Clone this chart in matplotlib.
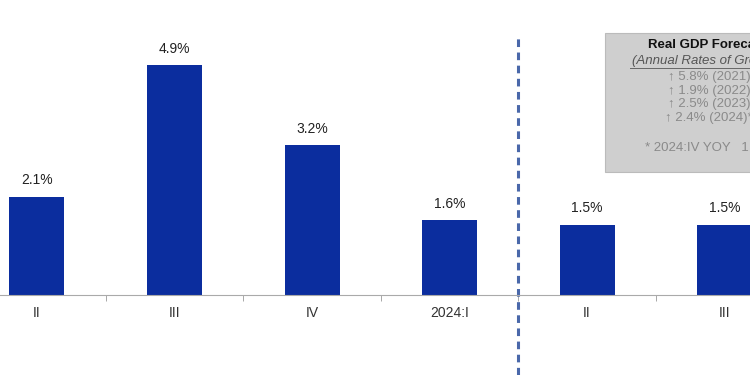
import matplotlib.pyplot as plt
from matplotlib.patches import Rectangle
from matplotlib.transforms import blended_transform_factory

plt.rcParams['font.family'] = ['Liberation Sans', 'DejaVu Sans']

quarters = ['II', 'III', 'IV', '2024:I', 'II', 'III']
growth = [2.1, 4.9, 3.2, 1.6, 1.5, 1.5]
forecast_lines = ['\u2191 5.8% (2021)', '\u2191 1.9% (2022)', '\u2191 2.5% (2023)', '\u2191 2.4% (2024)*']

fig = plt.figure(figsize=(7.5, 3.75), dpi=100)
ax = fig.add_axes([0, 80 / 375, 1, 295 / 375])

x = list(range(len(growth)))
ax.bar(x, growth, width=0.4, color='#0b2d9e', zorder=2)
for xi, v in zip(x, growth):
    ax.text(xi, v + 0.2, f'{v}%', ha='center', va='bottom', fontsize=10, color='#222222')

ax.set_xticks(x)
ax.set_xticklabels(quarters, fontsize=10, color='#333333')
ax.set_xticks([i + 0.5 for i in range(-1, len(growth))], minor=True)
ax.tick_params(axis='x', which='major', length=0, pad=8)
ax.tick_params(axis='x', which='minor', length=4, color='#999999', direction='out')
ax.set_yticks([])
ax.set_xlim(-0.269, 5.185)
ax.set_ylim(0, 6.29)
for s in ['top', 'left', 'right']:
    ax.spines[s].set_visible(False)
ax.spines['bottom'].set_color('#aaaaaa')

# forecast divider
tr = blended_transform_factory(ax.transData, fig.transFigure)
ax.plot([3.5, 3.5], [0, 1 - 35 / 375], transform=tr, clip_on=False,
        color='#4a68aa', lw=2.2, ls=(0, (2.5, 1.8)))

# forecast box
fig.patches.append(Rectangle((605 / 750, 1 - 172 / 375), 200 / 750, 139 / 375,
                             transform=fig.transFigure, facecolor='#cfcfcf',
                             edgecolor='#bbbbbb', lw=0.8))
cx = 707 / 750
fig.text(cx, 1 - 45 / 375, 'Real GDP Forecast', ha='center', va='center',
         fontsize=9.5, fontweight='bold', color='#111111')
fig.text(cx, 1 - 61 / 375, '(Annual Rates of Growth)', ha='center', va='center',
         fontsize=9.5, style='italic', color='#555555')
fig.add_artist(plt.Line2D([630 / 750, 790 / 750], [1 - 68 / 375] * 2, color='#666666', lw=0.7))
for i, line in enumerate(forecast_lines):
    fig.text(cx + 2 / 750, 1 - (77 + i * 13.7) / 375, line, ha='center', va='center',
             fontsize=9.5, color='#8a8a8a')
fig.text(645 / 750, 1 - 148 / 375, '* 2024:IV YOY   1.9%', ha='left', va='center',
         fontsize=9.5, color='#8a8a8a')

fig.savefig('out.png', dpi=100)
